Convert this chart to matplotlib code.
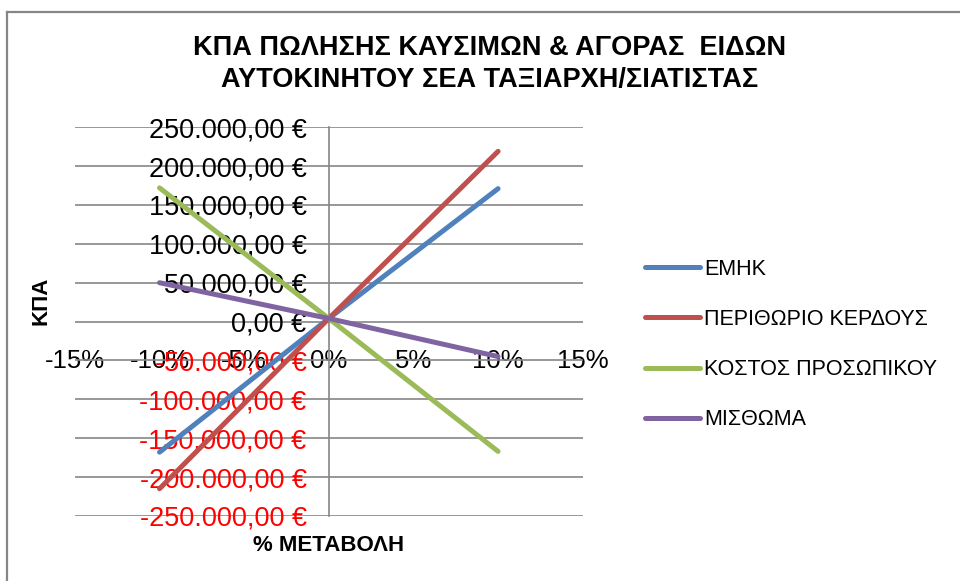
import matplotlib

matplotlib.use("Agg")
import matplotlib.pyplot as plt
from matplotlib.lines import Line2D
from matplotlib.ticker import FuncFormatter, PercentFormatter

plt.rcParams["font.family"] = ["Liberation Sans", "DejaVu Sans"]
plt.rcParams["axes.unicode_minus"] = False

# data
change = [-0.10, 0.0, 0.10]
emhk = [-168000, 4000, 171000]
profit_margin = [-215000, 4000, 219000]
staff_cost = [172000, 4000, -167000]
rent = [50000, 4000, -45000]

series_names = ["ΕΜΗΚ", "ΠΕΡΙΘΩΡΙΟ ΚΕΡΔΟΥΣ", "ΚΟΣΤΟΣ ΠΡΟΣΩΠΙΚΟΥ", "ΜΙΣΘΩΜΑ"]
series_values = [emhk, profit_margin, staff_cost, rent]
series_colors = ["#4F81BD", "#C0504D", "#9BBB59", "#8064A2"]

x_ticks = [-0.15, -0.10, -0.05, 0.0, 0.05, 0.10, 0.15]
y_ticks = list(range(-250000, 250001, 50000))


def euro(value, _pos=None):
    text = f"{abs(value):,.2f}".replace(",", "X").replace(".", ",").replace("X", ".")
    return ("-" if value < 0 else "") + text + " €"


fig = plt.figure(figsize=(9.6, 5.81), dpi=100)
ax = fig.add_axes([0.078, 0.112, 0.529, 0.669])

# outer chart border (top and left visible)
fig.add_artist(Line2D([0.007, 0.007], [0.0, 0.979], color="#868686", lw=1.6))
fig.add_artist(Line2D([0.007, 1.0], [0.979, 0.979], color="#868686", lw=1.6))

for values, color, name in zip(series_values, series_colors, series_names):
    ax.plot(change, values, color=color, lw=3.6, solid_capstyle="round", label=name, zorder=3)

ax.set_xlim(-0.15, 0.15)
ax.set_ylim(-250000, 250000)
ax.set_yticks(y_ticks)
ax.set_xticks(x_ticks)
ax.yaxis.set_major_formatter(FuncFormatter(euro))
ax.xaxis.set_major_formatter(PercentFormatter(1.0, decimals=0))

for spine in ["top", "right", "bottom"]:
    ax.spines[spine].set_visible(False)
ax.spines["left"].set_position(("data", 0))
ax.spines["left"].set_color("#868686")
ax.spines["left"].set_linewidth(1.2)
ax.spines["bottom"].set_position(("data", 0))

ax.grid(axis="y", color="#868686", lw=1.2, zorder=1)
ax.tick_params(axis="y", length=0, pad=16, labelsize=19.5)
ax.tick_params(axis="x", length=0, pad=20, labelsize=18.5)
for label, value in zip(ax.get_yticklabels(), y_ticks):
    if value < 0:
        label.set_color("red")

ax.set_ylabel("ΚΠΑ", fontsize=16, fontweight="bold", va="center")
ax.yaxis.set_label_coords(-0.066, 0.553)
ax.set_xlabel("% ΜΕΤΑΒΟΛΗ", fontsize=16, fontweight="bold", va="center")
ax.xaxis.set_label_coords(0.5, -0.075)

fig.text(0.51, 0.889, "ΚΠΑ ΠΩΛΗΣΗΣ ΚΑΥΣΙΜΩΝ & ΑΓΟΡΑΣ  ΕΙΔΩΝ\nΑΥΤΟΚΙΝΗΤΟΥ ΣΕΑ ΤΑΞΙΑΡΧΗ/ΣΙΑΤΙΣΤΑΣ",
         ha="center", va="center", fontsize=19.5, fontweight="bold", linespacing=1.3)

fig.legend(loc="center left", bbox_to_anchor=(0.652, 0.407), frameon=False,
           fontsize=15.5, handlelength=2.55, handletextpad=0.2, labelspacing=1.36)

fig.savefig("out.png", dpi=100)
